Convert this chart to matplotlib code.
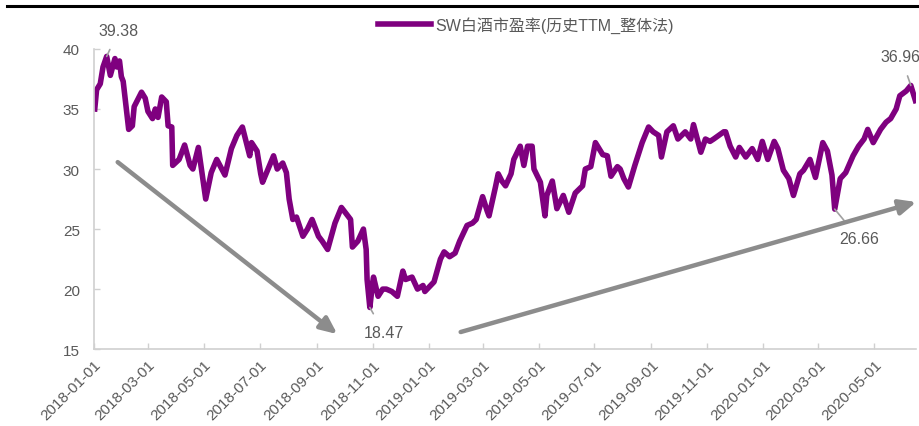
import numpy as np
import pandas as pd
import matplotlib
matplotlib.use("Agg")
import matplotlib.pyplot as plt
import matplotlib.dates as mdates
from matplotlib.lines import Line2D

plt.rcParams['font.family'] = ['Liberation Sans', 'Noto Sans CJK SC']

series_name = "SW白酒市盈率(历史TTM_整体法)"

dates = [
    "2018-01-02", "2018-01-04", "2018-01-08", "2018-01-11", "2018-01-15", "2018-01-19",
    "2018-01-24", "2018-01-26", "2018-01-29", "2018-01-31", "2018-02-02", "2018-02-08",
    "2018-02-12", "2018-02-14", "2018-02-22", "2018-02-26", "2018-03-01", "2018-03-06",
    "2018-03-09", "2018-03-12", "2018-03-16", "2018-03-21", "2018-03-23", "2018-03-27",
    "2018-03-28", "2018-04-04", "2018-04-10", "2018-04-16", "2018-04-19", "2018-04-25",
    "2018-05-03", "2018-05-09", "2018-05-15", "2018-05-24", "2018-05-31", "2018-06-06",
    "2018-06-12", "2018-06-20", "2018-06-22", "2018-06-28", "2018-07-02", "2018-07-04",
    "2018-07-10", "2018-07-16", "2018-07-20", "2018-07-26", "2018-07-30", "2018-08-02",
    "2018-08-06", "2018-08-10", "2018-08-17", "2018-08-22", "2018-08-27", "2018-09-03",
    "2018-09-07", "2018-09-13", "2018-09-21", "2018-09-28", "2018-10-08", "2018-10-10",
    "2018-10-16", "2018-10-22", "2018-10-25", "2018-10-26", "2018-10-29", "2018-11-01",
    "2018-11-02", "2018-11-07", "2018-11-12", "2018-11-16", "2018-11-22", "2018-11-28",
    "2018-12-04", "2018-12-07", "2018-12-14", "2018-12-20", "2018-12-26", "2018-12-28",
    "2019-01-07", "2019-01-14", "2019-01-18", "2019-01-24", "2019-01-30", "2019-02-04",
    "2019-02-12", "2019-02-18", "2019-02-22", "2019-03-01", "2019-03-06", "2019-03-08",
    "2019-03-15", "2019-03-18", "2019-03-22", "2019-03-26", "2019-04-01", "2019-04-04",
    "2019-04-11", "2019-04-15", "2019-04-19", "2019-04-24", "2019-04-26", "2019-05-03",
    "2019-05-08", "2019-05-10", "2019-05-16", "2019-05-21", "2019-05-28", "2019-06-03",
    "2019-06-10", "2019-06-18", "2019-06-21", "2019-06-27", "2019-07-02", "2019-07-10",
    "2019-07-15", "2019-07-19", "2019-07-26", "2019-07-29", "2019-08-02", "2019-08-07",
    "2019-08-14", "2019-08-22", "2019-08-29", "2019-09-03", "2019-09-09", "2019-09-12",
    "2019-09-18", "2019-09-25", "2019-09-30", "2019-10-08", "2019-10-14", "2019-10-17",
    "2019-10-25", "2019-10-30", "2019-11-04", "2019-11-08", "2019-11-19", "2019-11-21",
    "2019-11-26", "2019-12-02", "2019-12-06", "2019-12-13", "2019-12-20", "2019-12-26",
    "2019-12-31", "2020-01-06", "2020-01-13", "2020-01-17", "2020-01-23", "2020-01-29",
    "2020-02-03", "2020-02-10", "2020-02-14", "2020-02-21", "2020-02-27", "2020-03-06",
    "2020-03-11", "2020-03-16", "2020-03-19", "2020-03-25", "2020-03-31", "2020-04-08",
    "2020-04-14", "2020-04-20", "2020-04-24", "2020-04-30", "2020-05-08", "2020-05-14",
    "2020-05-19", "2020-05-25", "2020-05-29", "2020-06-05", "2020-06-10", "2020-06-15",
]

pe = [
    35.0, 36.6, 37.1, 38.5, 39.38, 37.8,
    39.2, 38.5, 39.0, 37.7, 37.3, 33.3,
    33.6, 35.2, 36.4, 35.9, 34.8, 34.2,
    35.0, 34.3, 36.0, 35.6, 33.6, 33.5,
    30.3, 30.8, 32.0, 30.3, 30.0, 31.8,
    27.5, 29.7, 30.8, 29.5, 31.7, 32.8,
    33.5, 31.1, 32.2, 31.5, 29.6, 28.9,
    30.0, 31.1, 30.0, 30.5, 29.7, 27.5,
    25.8, 26.0, 24.4, 25.0, 25.8, 24.4,
    24.0, 23.3, 25.5, 26.8, 25.8, 23.5,
    24.0, 25.0, 23.3, 20.8, 18.47, 20.5,
    21.0, 19.4, 20.0, 20.0, 19.8, 19.4,
    21.5, 20.8, 21.0, 20.0, 20.3, 19.8,
    20.6, 22.5, 23.1, 22.7, 23.0, 24.0,
    25.3, 25.5, 25.8, 27.7, 26.5, 26.1,
    28.5, 29.6, 29.0, 28.6, 29.6, 30.8,
    31.9, 30.3, 31.9, 31.9, 30.0, 28.9,
    26.1, 27.8, 29.0, 26.7, 27.8, 26.4,
    28.0, 28.6, 30.0, 30.2, 32.2, 31.2,
    31.1, 29.4, 30.2, 30.0, 29.2, 28.5,
    30.3, 32.2, 33.5, 33.1, 32.8, 31.0,
    33.1, 33.6, 32.5, 33.1, 32.5, 33.7,
    31.4, 32.5, 32.3, 32.5, 33.1, 33.1,
    31.9, 31.0, 31.8, 31.0, 31.7, 30.8,
    32.3, 30.8, 32.3, 31.7, 29.9, 29.2,
    27.8, 29.6, 29.9, 30.8, 29.3, 32.2,
    31.5, 29.5, 26.66, 29.2, 29.7, 31.1,
    31.9, 32.5, 33.3, 32.2, 33.3, 33.9,
    34.2, 35.0, 36.1, 36.5, 36.96, 35.7,
]

tick_dates = ["2018-01-01", "2018-03-01", "2018-05-01", "2018-07-01", "2018-09-01",
              "2018-11-01", "2019-01-01", "2019-03-01", "2019-05-01", "2019-07-01",
              "2019-09-01", "2019-11-01", "2020-01-01", "2020-03-01", "2020-05-01"]
y_ticks = [15, 20, 25, 30, 35, 40]

x = pd.to_datetime(dates)
y = np.array(pe)

fig = plt.figure(figsize=(9.2, 4.27), dpi=100)
ax = fig.add_axes([0.102, 0.180, 0.894, 0.703])

purple = "#7f007f"
grey_txt = "#595959"
arrow_c = "#8c8c8c"

ax.plot(x, y, color=purple, lw=4.0, solid_joinstyle="round", label=series_name)

ax.set_xlim(pd.Timestamp("2018-01-01"), pd.Timestamp("2020-06-16"))
ax.set_ylim(15, 40)
ax.set_yticks(y_ticks)
ax.set_xticks(pd.to_datetime(tick_dates))
ax.xaxis.set_major_formatter(mdates.DateFormatter("%Y-%m-%d"))
for lab in ax.get_xticklabels():
    lab.set_rotation(45)
    lab.set_ha("right")
    lab.set_rotation_mode("anchor")

ax.tick_params(axis="both", direction="in", length=4, width=1, color="#d0d0d0",
               labelcolor=grey_txt, labelsize=11)
ax.tick_params(axis="y", pad=10)
ax.tick_params(axis="x", pad=6)
for side in ["top", "right"]:
    ax.spines[side].set_visible(False)
for side in ["left", "bottom"]:
    ax.spines[side].set_color("#d0d0d0")
    ax.spines[side].set_linewidth(1.2)

# labels for the extremes
def mark(i, dx, dy):
    ax.annotate(f"{y[i]:.2f}", xy=(x[i], y[i]), xytext=(dx, dy), textcoords="offset pixels",
                ha="center", va="center", fontsize=11.5, color=grey_txt, annotation_clip=False,
                arrowprops=dict(arrowstyle="-", color="#a0a0a0", lw=1.2, shrinkA=7, shrinkB=0))

i_max = int(np.argmax(y[:50]))
i_min = int(np.argmin(y))
late = np.arange(len(y)) > 140
i_low20 = int(np.where(late, y, 99).argmin())
i_hi20 = int(np.where(late, y, 0).argmax())
mark(i_max, 12, 26)
mark(i_min, 14, -25)
mark(i_low20, 24, -29)
mark(i_hi20, -10, 29)

# trend arrows
arrow = dict(arrowstyle="-|>,head_length=1.0,head_width=0.45", color=arrow_c, lw=3.2,
             shrinkA=0, shrinkB=0)
ax.annotate("", xy=(0.296, 0.05), xytext=(0.029, 0.623), xycoords="axes fraction",
            arrowprops=arrow, annotation_clip=False)
ax.annotate("", xy=(1.0, 0.49), xytext=(0.446, 0.057), xycoords="axes fraction",
            arrowprops=arrow, annotation_clip=False)

fig.legend(loc="center", bbox_to_anchor=(0.572, 0.941), frameon=False, fontsize=11.5,
           handlelength=3.3, handletextpad=0.3, labelcolor=grey_txt)

fig.add_artist(Line2D([0.008, 1.0], [0.984, 0.984], color="black", lw=2.2,
                      transform=fig.transFigure))

fig.savefig("out.png", dpi=100)
